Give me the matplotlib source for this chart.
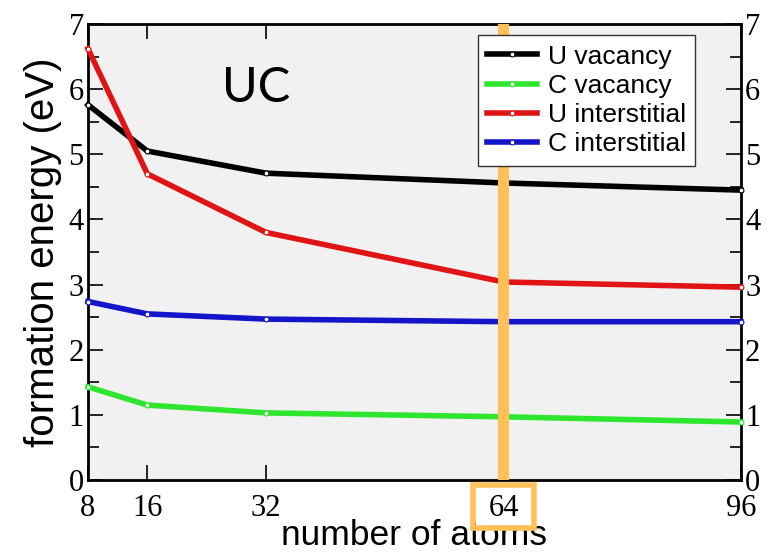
import numpy as np
from matplotlib import pyplot as plt
from matplotlib import patches, transforms
from matplotlib.ticker import MultipleLocator

# supercell sizes and defect formation energies (eV)
n_atoms = [8, 16, 32, 64, 96]
e_u_vac = [5.76, 5.05, 4.71, 4.56, 4.45]
e_c_vac = [1.43, 1.15, 1.03, 0.97, 0.89]
e_u_int = [6.62, 4.70, 3.80, 3.04, 2.96]
e_c_int = [2.74, 2.55, 2.47, 2.43, 2.43]

labels = ['U vacancy', 'C vacancy', 'U interstitial', 'C interstitial']
colors = ['black', '#2ee62e', '#e01414', '#1414c8']

serif = ['Liberation Serif', 'DejaVu Serif']
sans = ['Liberation Sans', 'DejaVu Sans']

fig = plt.figure(figsize=(7.67, 5.56), dpi=100)
ax = fig.add_axes([0.1147, 0.1367, 0.8513, 0.8201])
ax.set_facecolor('#f1f1f1')

for y, lab, c in zip([e_u_vac, e_c_vac, e_u_int, e_c_int], labels, colors):
    ax.plot(n_atoms, y, '-o', color=c, lw=4, label=lab, ms=3.5,
            mfc='white', mec=c, mew=0.8, clip_on=False, zorder=3)

# highlight the 64-atom cell
ax.axvline(64, color='#ffc05a', lw=8, zorder=4)

ax.set_xlim(8, 96)
ax.set_ylim(0, 7)
ax.set_xticks(n_atoms)
ax.yaxis.set_major_locator(MultipleLocator(1))
ax.yaxis.set_minor_locator(MultipleLocator(0.5))
ax.tick_params(which='both', direction='in', top=True, right=True,
               labelright=True, width=1.2)
ax.tick_params(which='major', length=11)
ax.tick_params(which='minor', length=8)
ax.tick_params(axis='x', pad=10)
ax.tick_params(axis='y', pad=3)
for t in ax.get_xticklabels() + ax.get_yticklabels():
    t.set_family(serif)
    t.set_fontsize(22)
for sp in ax.spines.values():
    sp.set_linewidth(2)

ax.set_xlabel('number of atoms', family=sans, fontsize=25.5, labelpad=-3)
ax.set_ylabel('formation energy (eV)', family=sans, fontsize=29, labelpad=5)

ax.text(0.257, 0.86, 'UC', transform=ax.transAxes, family=['Lato', 'DejaVu Sans'],
        fontsize=35, ha='center', va='center')

leg = ax.legend(loc='upper right', bbox_to_anchor=(0.93, 0.975), prop={'family': sans, 'size': 19},
                frameon=True, fancybox=False, edgecolor='#333333', framealpha=1,
                handlelength=1.9, handletextpad=0.4, labelspacing=0.2,
                borderpad=0.35, borderaxespad=0)
leg.get_frame().set_linewidth(1)
leg.set_zorder(5)

# box around the 64 tick label
trans = transforms.blended_transform_factory(ax.transData, ax.transAxes)
box = patches.Rectangle((59.85, -0.105), 8.2, 0.094, transform=trans, fill=False,
                        edgecolor='#ffc05a', lw=4, clip_on=False, zorder=6)
ax.add_patch(box)

fig.savefig('out.png', dpi=100)
